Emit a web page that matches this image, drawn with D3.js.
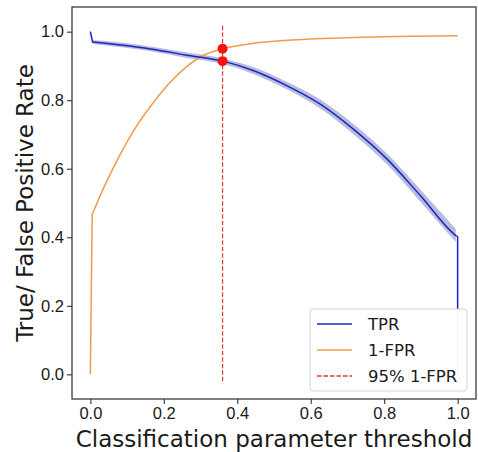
<!DOCTYPE html>
<html>
<head>
<meta charset="utf-8">
<script src="https://cdn.jsdelivr.net/npm/d3@7"></script>
<style>
  body { margin: 0; background: #fff; }
  svg { display: block; font-family: "DejaVu Sans", sans-serif; }
  .tick text { font-size: 16.5px; fill: #1a1a1a; }
  .tick line { stroke: #333; stroke-width: 1.1; }
  .axis-label { font-size: 23px; fill: #1a1a1a; }
  .legend-text { font-size: 16.5px; fill: #1a1a1a; }
</style>
</head>
<body>
<div id="wrapper"></div>
<script>
// data
const tprThresholds = [0, 0.006, 0.077, 0.168, 0.259, 0.361, 0.445, 0.536, 0.627, 0.717, 0.808, 0.899, 0.995, 1.0, 1.0]
const tprValues     = [1.0, 0.970, 0.962, 0.949, 0.932, 0.914, 0.886, 0.842, 0.788, 0.715, 0.628, 0.521, 0.405, 0.401, 0.0]
const tprLower      = [1.0, 0.964, 0.955, 0.942, 0.924, 0.906, 0.876, 0.831, 0.775, 0.700, 0.612, 0.503, 0.386, 0.382, 0.0]
const tprUpper      = [1.0, 0.976, 0.969, 0.956, 0.940, 0.922, 0.896, 0.853, 0.801, 0.730, 0.644, 0.539, 0.424, 0.420, 0.0]

const fprThresholds = [0, 0.005, 0.041, 0.077, 0.123, 0.168, 0.213, 0.259, 0.304, 0.361, 0.445, 0.536, 0.717, 1.0]
const oneMinusFpr   = [0.0, 0.467, 0.555, 0.633, 0.720, 0.788, 0.847, 0.895, 0.929, 0.950, 0.966, 0.975, 0.983, 0.988]

const cutThreshold = 0.36
const cutPoints = [0.950, 0.914]   // 1-FPR, TPR at the cut
const cutLineRange = [-0.02, 1.02]

const xTicks = [0, 0.2, 0.4, 0.6, 0.8, 1.0]
const yTicks = [0, 0.2, 0.4, 0.6, 0.8, 1.0]
const legendLabels = ["TPR", "1-FPR", "95% 1-FPR"]

async function drawChart() {
  let dimensions = {
    width: 478,
    height: 452,
    margin: { top: 7, right: 2, bottom: 53, left: 72 }
  }
  dimensions.boundedWidth = dimensions.width
    - dimensions.margin.left
    - dimensions.margin.right
  dimensions.boundedHeight = dimensions.height
    - dimensions.margin.top
    - dimensions.margin.bottom

  const colors = {
    tpr: "#2020c8",
    band: "#aab3d6",
    fpr: "#f29a4a",
    cut: "#d43c3c",
    dot: "#ff1010"
  }

  // draw canvas
  const wrapper = d3.select("#wrapper")
    .append("svg")
      .attr("width", dimensions.width)
      .attr("height", dimensions.height)

  const bounds = wrapper.append("g")
    .attr("transform", `translate(${dimensions.margin.left}, ${dimensions.margin.top})`)

  // scales (matplotlib-style 5% margins)
  const xScale = d3.scaleLinear()
    .domain([-0.05, 1.05])
    .range([0, dimensions.boundedWidth])

  const yScale = d3.scaleLinear()
    .domain([-0.072, 1.072])
    .range([dimensions.boundedHeight, 0])

  // path with straight ends and a smooth middle
  function smoothPath(xs, ys, headCount, tailCount) {
    const pts = xs.map((x, i) => [xScale(x), yScale(ys[i])])
    const head = pts.slice(0, headCount)
    const body = pts.slice(headCount - 1, pts.length - tailCount + 1)
    const tail = pts.slice(pts.length - tailCount)
    const bodyPath = d3.line().curve(d3.curveMonotoneX)(body)
    let p = "M" + head.map(d => d.join(",")).join("L")
    p += bodyPath.replace(/^M[^CLZ]*/, "")
    if (tail.length) p += "L" + tail.map(d => d.join(",")).join("L")
    return p
  }

  // confidence band around TPR
  const bandIdx = d3.range(1, tprThresholds.length - 1)
  const bandArea = d3.area()
    .curve(d3.curveMonotoneX)
    .x(i => xScale(tprThresholds[i]))
    .y0(i => yScale(tprLower[i]))
    .y1(i => yScale(tprUpper[i]))
  bounds.append("path")
    .attr("d", bandArea(bandIdx.slice(0, bandIdx.length - 1)))
    .attr("fill", colors.band)
    .attr("opacity", 0.85)

  // 1-FPR
  bounds.append("path")
    .attr("d", smoothPath(fprThresholds, oneMinusFpr, 2, 0))
    .attr("fill", "none")
    .attr("stroke", colors.fpr)
    .attr("stroke-width", 1.5)

  // TPR
  bounds.append("path")
    .attr("d", smoothPath(tprThresholds, tprValues, 2, 1))
    .attr("fill", "none")
    .attr("stroke", colors.tpr)
    .attr("stroke-width", 1.5)

  // 95% 1-FPR cut line
  bounds.append("line")
    .attr("x1", xScale(cutThreshold))
    .attr("x2", xScale(cutThreshold))
    .attr("y1", yScale(cutLineRange[0]))
    .attr("y2", yScale(cutLineRange[1]))
    .attr("stroke", colors.cut)
    .attr("stroke-width", 1.2)
    .attr("stroke-dasharray", "4.5,2")

  bounds.selectAll(".cut-dot")
    .data(cutPoints)
    .enter().append("circle")
      .attr("class", "cut-dot")
      .attr("cx", xScale(cutThreshold))
      .attr("cy", d => yScale(d))
      .attr("r", 5)
      .attr("fill", colors.dot)

  // axes
  const xAxisGenerator = d3.axisBottom(xScale)
    .tickValues(xTicks)
    .tickFormat(d3.format(".1f"))
    .tickSize(5)
    .tickPadding(3)
  const xAxis = bounds.append("g")
    .call(xAxisGenerator)
      .attr("transform", `translate(0, ${dimensions.boundedHeight})`)
  xAxis.select(".domain").remove()

  const yAxisGenerator = d3.axisLeft(yScale)
    .tickValues(yTicks)
    .tickFormat(d3.format(".1f"))
    .tickSize(5)
    .tickPadding(3)
  const yAxis = bounds.append("g")
    .call(yAxisGenerator)
  yAxis.select(".domain").remove()
  bounds.selectAll(".tick text").attr("font-family", null).attr("font-size", null)

  // frame
  bounds.append("rect")
    .attr("width", dimensions.boundedWidth)
    .attr("height", dimensions.boundedHeight)
    .attr("fill", "none")
    .attr("stroke", "#333")
    .attr("stroke-width", 1.25)

  wrapper.append("text")
    .attr("class", "axis-label")
    .attr("x", dimensions.margin.left + dimensions.boundedWidth / 2)
    .attr("y", 447)
    .attr("text-anchor", "middle")
    .text("Classification parameter threshold")

  wrapper.append("text")
    .attr("class", "axis-label")
    .attr("transform", `translate(33, ${dimensions.margin.top + dimensions.boundedHeight / 2}) rotate(-90)`)
    .attr("text-anchor", "middle")
    .text("True/ False Positive Rate")

  // legend
  const legend = bounds.append("g")
    .attr("transform", `translate(${310 - dimensions.margin.left}, ${309 - dimensions.margin.top})`)

  legend.append("rect")
    .attr("width", 157)
    .attr("height", 82)
    .attr("rx", 3)
    .attr("fill", "#fff")
    .attr("fill-opacity", 0.95)
    .attr("stroke", "#d4d4d4")

  const legendStyles = [
    { color: colors.tpr, dash: null },
    { color: colors.fpr, dash: null },
    { color: colors.cut, dash: "4.5,2" }
  ]
  const rows = legend.selectAll(".legend-row")
    .data(legendLabels)
    .enter().append("g")
      .attr("transform", (d, i) => `translate(0, ${15 + i * 26})`)

  rows.append("line")
    .attr("x1", 7)
    .attr("x2", 42)
    .attr("stroke", (d, i) => legendStyles[i].color)
    .attr("stroke-width", 1.5)
    .attr("stroke-dasharray", (d, i) => legendStyles[i].dash)

  rows.append("text")
    .attr("class", "legend-text")
    .attr("x", 58)
    .attr("dy", "0.36em")
    .text(d => d)
}

drawChart()
</script>
</body>
</html>
